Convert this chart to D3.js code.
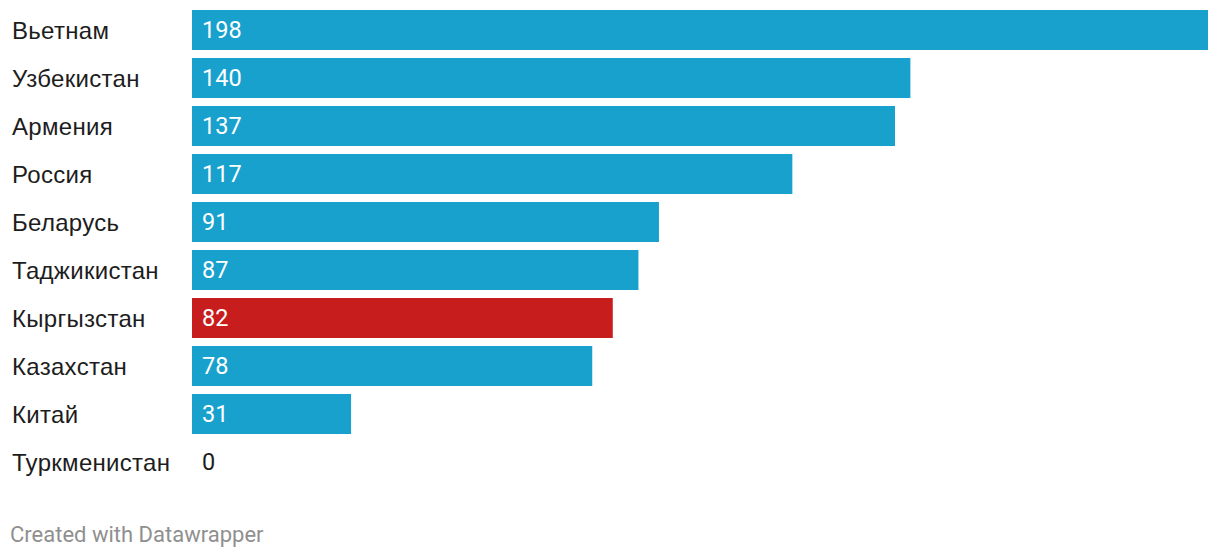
<!doctype html>
<html>
  <head>
    <meta charset="utf-8">
    <script src="https://cdn.jsdelivr.net/npm/d3@7"></script>
    <style>
      body { margin: 0; background: #fff; }
      .label { font-family: "Liberation Sans", Arial, sans-serif; font-size: 24px; letter-spacing: 0.3px; fill: #1d1d1d; }
      .value { font-family: Roboto, sans-serif; font-size: 23.5px; }
      .credit { font-family: Roboto, sans-serif; font-size: 22px; fill: #8f8f8f; }
    </style>
  </head>
  <body>
    <svg width="1220" height="558"></svg>
    <script>
      var countries = ["Вьетнам", "Узбекистан", "Армения", "Россия", "Беларусь",
        "Таджикистан", "Кыргызстан", "Казахстан", "Китай", "Туркменистан"];
      var values = [198, 140, 137, 117, 91, 87, 82, 78, 31, 0];
      var highlight = ["Кыргызстан"];

      var data = countries.map((c, i) => ({ country: c, value: values[i] }));

      var svg = d3.select("svg");

      var xScale = d3.scaleLinear().domain([0, 198]).range([192, 1208]);
      // step 48, bar 40
      var yScale = d3.scaleBand().domain(countries).range([10, 482]).paddingInner(1 / 6).paddingOuter(0);

      var row = svg.selectAll("g.row")
        .data(data)
        .enter()
        .append("g")
        .attr("class", "row")
        .attr("transform", d => "translate(0," + yScale(d.country) + ")");

      row.append("rect")
        .attr("x", xScale(0))
        .attr("y", 0)
        .attr("width", d => xScale(d.value) - xScale(0))
        .attr("height", yScale.bandwidth())
        .style("fill", d => highlight.includes(d.country) ? "#c71e1d" : "#18a1cd");

      row.append("text")
        .attr("class", "label")
        .attr("x", 12)
        .attr("y", yScale.bandwidth() / 2)
        .attr("dy", "0.36em")
        .text(d => d.country);

      row.append("text")
        .attr("class", "value")
        .attr("x", xScale(0) + 10)
        .attr("y", yScale.bandwidth() / 2)
        .attr("dy", "0.36em")
        .style("fill", d => d.value > 0 ? "#fff" : "#1d1d1d")
        .text(d => d.value);

      svg.append("text")
        .attr("class", "credit")
        .attr("x", 10)
        .attr("y", 542)
        .text("Created with Datawrapper");
    </script>
  </body>
</html>
